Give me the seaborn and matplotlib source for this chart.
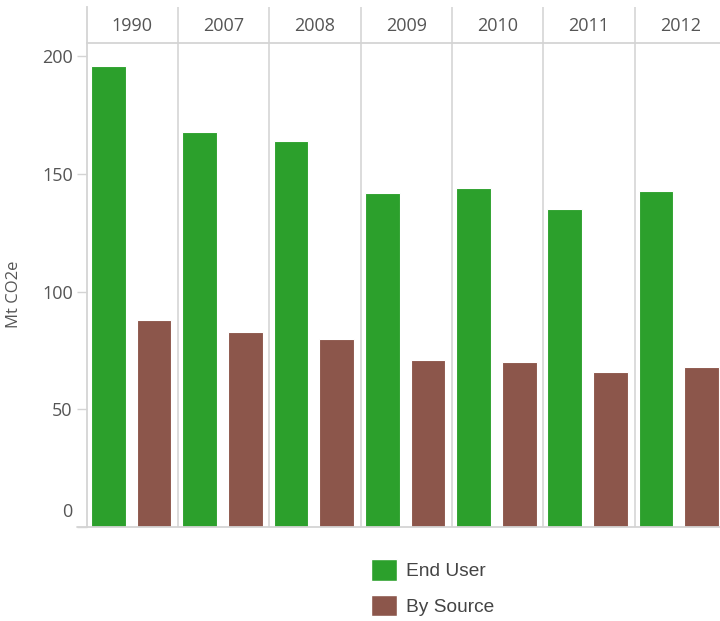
import matplotlib
matplotlib.use("Agg")
import matplotlib.pyplot as plt
import matplotlib.transforms as mtransforms
from matplotlib.lines import Line2D
from matplotlib.patches import Patch
import seaborn as sns
import pandas as pd

years = ['1990', '2007', '2008', '2009', '2010', '2011', '2012']
end_user = [196, 168, 164, 142, 144, 135, 143]
by_source = [88, 83, 80, 71, 70, 66, 68]
series = ['End User', 'By Source']
colors = ['#2ca02c', '#8c564b']
yticks = [0, 50, 100, 150, 200]

df = pd.DataFrame({
    'Year': years * 2,
    'Type': [series[0]] * len(years) + [series[1]] * len(years),
    'Value': end_user + by_source,
})

sns.set_theme(style='white')
plt.rcParams['font.family'] = ['Open Sans', 'DejaVu Sans']

W, H = 720, 621
fig = plt.figure(figsize=(W / 100, H / 100), dpi=100)

left_px, top_px, bot_px, hdr_top_px = 86.7, 43, 527, 7
col_w = 91.3
shift = 0.013
ax = fig.add_axes([left_px / W, 1 - bot_px / H, (W - left_px) / W, (bot_px - top_px) / H])
axh = fig.add_axes([left_px / W, 1 - top_px / H, (W - left_px) / W, (top_px - hdr_top_px) / H])

sns.barplot(data=df, x='Year', y='Value', hue='Type', hue_order=series,
            palette=colors, dodge=True, width=1.0, gap=0.24, ax=ax,
            legend=False, linewidth=0.8, edgecolor='white', saturation=1)

xmin = -0.5 + shift
xmax = xmin + (W - left_px) / col_w
ax.set_xlim(xmin, xmax)
ax.set_ylim(0, (bot_px - top_px) / 2.353)
ax.set_xticks([])
ax.set_xlabel('')
ax.set_yticks(yticks)
ax.set_yticklabels([str(v) for v in yticks])
ax.tick_params(axis='y', length=7, width=1, color='#d4d4d4', labelsize=13,
               labelcolor='#555555', pad=3, left=True)
ax.set_ylabel('Mt CO2e', fontsize=12, color='#555555')
ax.yaxis.set_label_coords((22 - left_px) / (W - left_px), 0.48)
for s in ['top', 'right', 'bottom']:
    ax.spines[s].set_visible(False)
ax.spines['left'].set_color('#d4d4d4')
ax.spines['left'].set_linewidth(1.3)
for i in range(len(years)):
    ax.axvline(i + 0.5 + shift, color='#d9d9d9', lw=1.3, zorder=0)

# shift "0" label up as in reference
lbl0 = ax.get_yticklabels()[0]
lbl0.set_transform(lbl0.get_transform() + mtransforms.ScaledTranslation(0, 12 / 72, fig.dpi_scale_trans))

# header
axh.set_xlim(xmin, xmax)
axh.set_ylim(0, 1)
axh.set_xticks([])
axh.set_yticks([])
axh.set_facecolor('none')
for s in ['top', 'right']:
    axh.spines[s].set_visible(False)
for s in ['left', 'bottom']:
    axh.spines[s].set_color('#d4d4d4')
    axh.spines[s].set_linewidth(1.3)
for i, y in enumerate(years):
    axh.text(i + shift, 0.46, y, ha='center', va='center', fontsize=13, color='#555555')
    axh.axvline(i + 0.5 + shift, color='#d9d9d9', lw=1.3)

# baseline extending under tick area
fig.add_artist(Line2D([77 / W, 1], [1 - bot_px / H, 1 - bot_px / H],
                      color='#d4d4d4', lw=1.3, transform=fig.transFigure))

handles = [Patch(facecolor=c, edgecolor='white', label=s) for s, c in zip(series, colors)]
fig.legend(handles=handles, loc='upper left', bbox_to_anchor=(371 / W, 1 - 559 / H),
           frameon=False, handlelength=1.35, handleheight=1.35,
           handletextpad=0.5, labelspacing=0.75, borderpad=0, borderaxespad=0,
           prop={'family': ['Liberation Sans'], 'size': 13.8}, labelcolor='#444444')

fig.savefig('out.png', dpi=100)
